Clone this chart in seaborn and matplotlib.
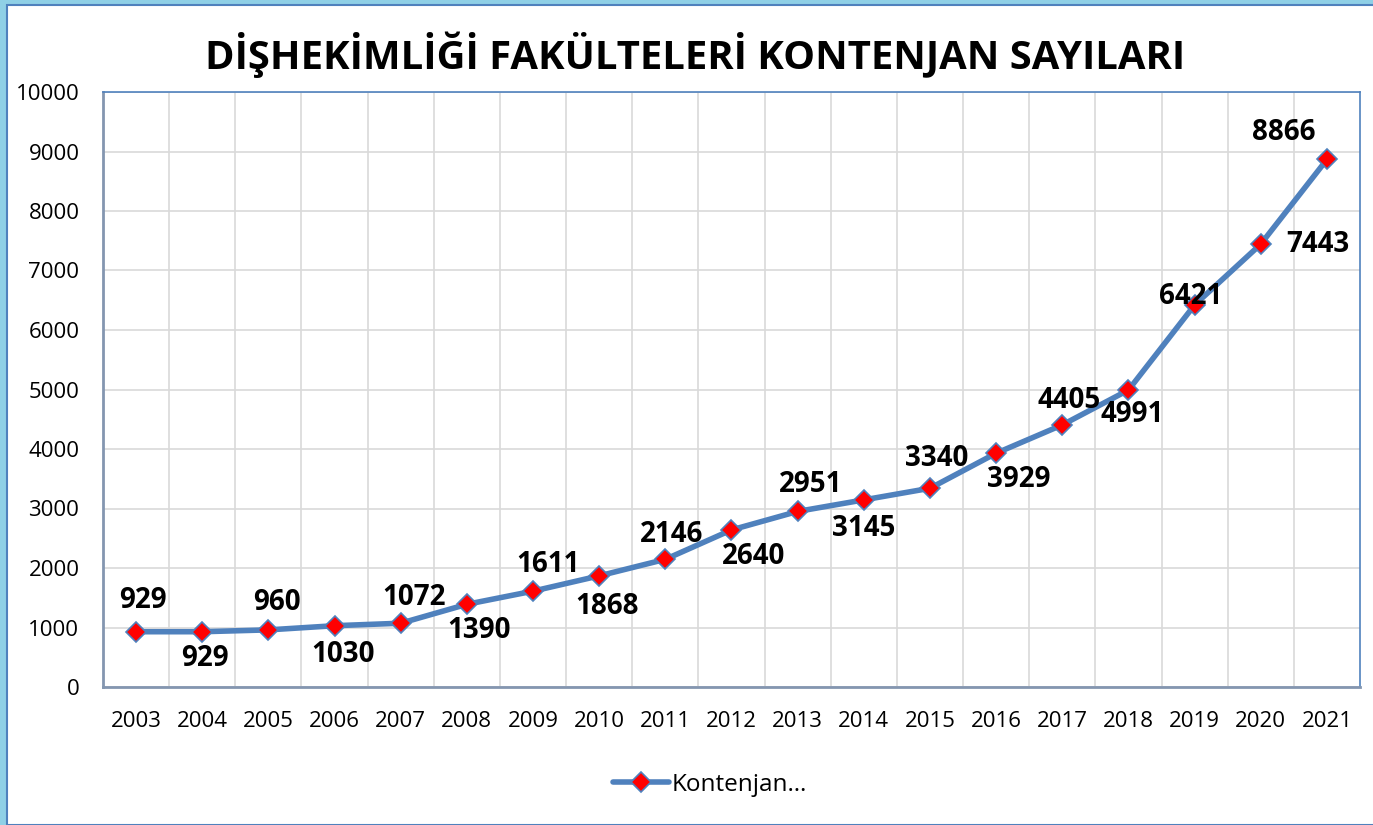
import matplotlib
matplotlib.use("Agg")
import matplotlib.pyplot as plt
import matplotlib.patches as mpatches
import pandas as pd
import seaborn as sns

years = ["2003", "2004", "2005", "2006", "2007", "2008", "2009", "2010", "2011", "2012",
         "2013", "2014", "2015", "2016", "2017", "2018", "2019", "2020", "2021"]
kontenjan = [929, 929, 960, 1030, 1072, 1390, 1611, 1868, 2146, 2640,
             2951, 3145, 3340, 3929, 4405, 4991, 6421, 7443, 8866]
# label placement per point (offset in pixels, up is positive)
label_offsets = [(7, 31), (3, -27), (9, 27), (9, -29), (13, 26), (12, -26), (15, 27), (8, -31),
                 (6, 25), (22, -27), (13, 27), (0, -29), (7, 30), (23, -26), (7, 24), (4, -24),
                 (-4, 8), (57, 0), (-43, 27)]

sns.set_style("white")
plt.rcParams["font.family"] = ["Open Sans", "DejaVu Sans"]
plt.rcParams["text.color"] = "black"

df = pd.DataFrame({"year": years, "value": kontenjan})
df["x"] = range(len(df))

fig = plt.figure(figsize=(13.73, 8.25), dpi=100)
fig.patch.set_facecolor("#8fd0e6")
fig.patches.append(mpatches.Rectangle((7 / 1373, 0), 1, 1 - 5 / 825, transform=fig.transFigure,
                                      facecolor="white", edgecolor="#4f81bd", linewidth=1.5,
                                      zorder=-5))

ax = fig.add_axes([103 / 1373, 1 - 687 / 825, (1360 - 103) / 1373, (687 - 92) / 825])
ax.set_facecolor("white")

sns.lineplot(data=df, x="x", y="value", ax=ax, color="#4f81bd", linewidth=4,
             marker="D", markersize=10, markerfacecolor="red", markeredgecolor="#4f81bd",
             markeredgewidth=1.2, label="Kontenjan…", zorder=3)

for i, (x, y) in enumerate(zip(df["x"], df["value"])):
    dx, dy = label_offsets[i]
    ax.annotate(str(y), (x, y), xytext=(dx, dy), textcoords="offset pixels",
                ha="center", va="center", fontsize=20, fontweight="bold", color="black",
                zorder=4)

ax.set_xlim(-0.5, len(years) - 0.5)
ax.set_ylim(0, 10000)
ax.set_yticks(range(0, 10001, 1000))
ax.set_xticks(range(len(years)))
ax.set_xticklabels(years)
ax.tick_params(axis="both", labelsize=16, length=0, labelcolor="black")
ax.tick_params(axis="x", pad=17)
ax.tick_params(axis="y", pad=17)
ax.set_xlabel("")
ax.set_ylabel("")

for v in [i + 0.5 for i in range(len(years) - 1)]:
    ax.axvline(v, color="#d9d9d9", linewidth=1.2, zorder=0)
ax.yaxis.grid(True, color="#d9d9d9", linewidth=1.2)
ax.set_axisbelow(True)

for side in ["left", "bottom"]:
    ax.spines[side].set_color("#8496b0")
    ax.spines[side].set_linewidth(2)
for side in ["top", "right"]:
    ax.spines[side].set_color("#4f81bd")
    ax.spines[side].set_linewidth(1.2)

fig.text(0.506, 1 - 55 / 825, "DİŞHEKİMLİĞİ FAKÜLTELERİ KONTENJAN SAYILARI",
         ha="center", va="center", fontsize=28.8, fontweight="bold", color="black")

ax.legend(loc="center", bbox_to_anchor=(710 / 1373, 1 - 785 / 825), bbox_transform=fig.transFigure,
          frameon=False, fontsize=17.5, handlelength=2.3, handletextpad=0.1)

fig.savefig("out.png", dpi=100, facecolor=fig.get_facecolor())
